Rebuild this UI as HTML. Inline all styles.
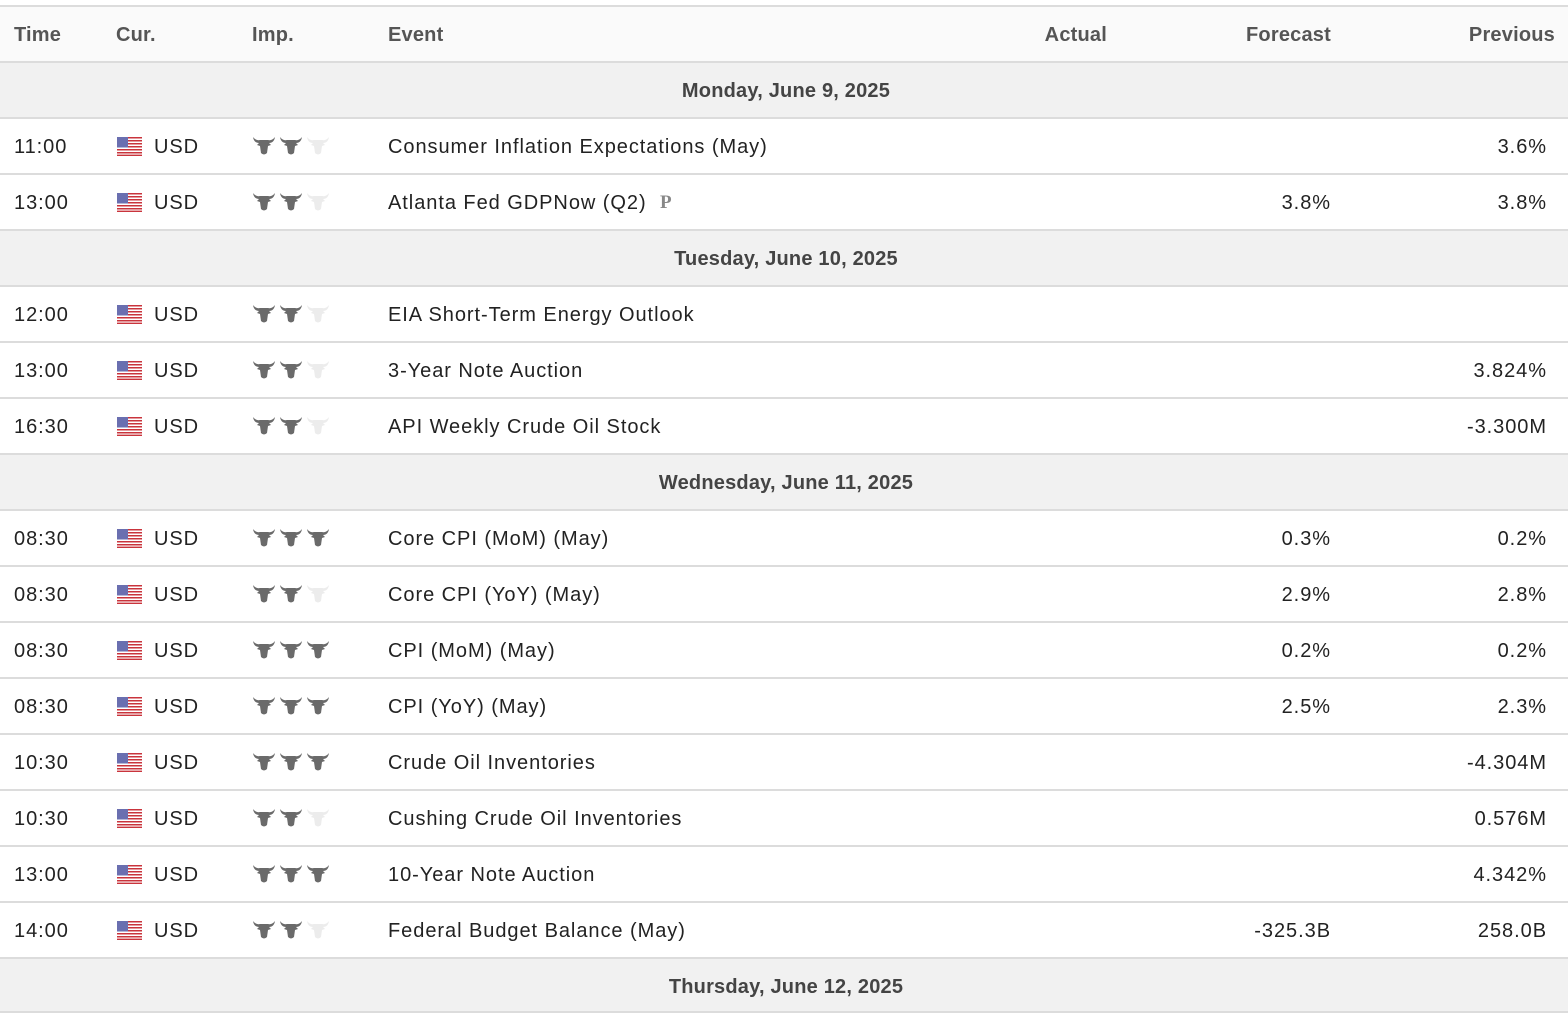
<!DOCTYPE html>
<html><head><meta charset="utf-8">
<style>
*{margin:0;padding:0;box-sizing:border-box}
body{width:1568px;height:1020px;background:#fff;font-family:"Liberation Sans",Arial,sans-serif;overflow:hidden;position:relative}
.tbl{position:absolute;left:0;top:5px;width:1568px}
.r{position:relative;height:56px;border-top:2px solid #dcdcdc;font-size:20px;color:#222;letter-spacing:0.95px}
.h{background:#fafafa;color:#555;font-weight:bold;font-size:20px;letter-spacing:0.2px}
.d{background:#f1f1f1;color:#444;font-weight:bold;font-size:20px;letter-spacing:0.2px}
.r span{position:absolute;top:1px;line-height:54px;white-space:nowrap}
.t{left:14px}.c{left:154px}.e{left:388px}
.a{right:461px}.f{right:237px}.p{right:21px}
.h .p{right:13px}
.dc{left:0;width:1572px;text-align:center}
.fl{position:absolute;left:117px;top:18px;width:25px;height:19px}
.im{position:absolute;left:253px;top:17px;width:78px;height:20px}
.last{border-bottom:2px solid #dcdcdc}
.r .pp{left:660px;font-family:"Liberation Serif",serif;font-weight:bold;color:#888;font-size:19px;letter-spacing:0}
</style></head><body>
<svg width="0" height="0" style="position:absolute">
<defs>
<symbol id="bull" viewBox="0 0 22 20"><path d="M0 1 Q1 7 6 7 L4 9 L7 10 L8 17 Q11 20 14 17 L15 10 L18 9 L16 7 Q21 7 22 1 Q19 5 15 4 L7 4 Q3 5 0 1Z"/></symbol>
<symbol id="flag" viewBox="0 0 25 19">
<rect width="25" height="19" fill="#fff"/>
<g fill="#c9343c"><rect y="0" width="25" height="1.5"/><rect y="3" width="25" height="1.5"/><rect y="6" width="25" height="1.5"/><rect y="9" width="25" height="1.5"/><rect y="12" width="25" height="1.5"/><rect y="15" width="25" height="1.5"/><rect y="17.6" width="25" height="1.4"/></g>
<rect width="11" height="10.5" fill="#6a6fb0"/>
</symbol>
<symbol id="i2" viewBox="0 0 78 20"><use href="#bull" x="0" width="22" height="20" fill="#6a6a6a"/><use href="#bull" x="27" width="22" height="20" fill="#6a6a6a"/><use href="#bull" x="54" width="22" height="20" fill="#ececec"/></symbol>
<symbol id="i3" viewBox="0 0 78 20"><use href="#bull" x="0" width="22" height="20" fill="#6a6a6a"/><use href="#bull" x="27" width="22" height="20" fill="#6a6a6a"/><use href="#bull" x="54" width="22" height="20" fill="#6a6a6a"/></symbol>
</defs></svg>
<div class="tbl">
<div class="r h"><span class="t">Time</span><span style="left:116px">Cur.</span><span style="left:252px">Imp.</span><span class="e">Event</span><span class="a">Actual</span><span class="f">Forecast</span><span class="p">Previous</span></div>
<div class="r d"><span class="dc">Monday, June 9, 2025</span></div>
<div class="r"><span class="t">11:00</span><svg class="fl"><use href="#flag"/></svg><span class="c">USD</span><svg class="im"><use href="#i2"/></svg><span class="e">Consumer Inflation Expectations (May)</span><span class="p">3.6%</span></div>
<div class="r"><span class="t">13:00</span><svg class="fl"><use href="#flag"/></svg><span class="c">USD</span><svg class="im"><use href="#i2"/></svg><span class="e">Atlanta Fed GDPNow (Q2)</span><span class="pp">P</span><span class="f">3.8%</span><span class="p">3.8%</span></div>
<div class="r d"><span class="dc">Tuesday, June 10, 2025</span></div>
<div class="r"><span class="t">12:00</span><svg class="fl"><use href="#flag"/></svg><span class="c">USD</span><svg class="im"><use href="#i2"/></svg><span class="e">EIA Short-Term Energy Outlook</span></div>
<div class="r"><span class="t">13:00</span><svg class="fl"><use href="#flag"/></svg><span class="c">USD</span><svg class="im"><use href="#i2"/></svg><span class="e">3-Year Note Auction</span><span class="p">3.824%</span></div>
<div class="r"><span class="t">16:30</span><svg class="fl"><use href="#flag"/></svg><span class="c">USD</span><svg class="im"><use href="#i2"/></svg><span class="e">API Weekly Crude Oil Stock</span><span class="p">-3.300M</span></div>
<div class="r d"><span class="dc">Wednesday, June 11, 2025</span></div>
<div class="r"><span class="t">08:30</span><svg class="fl"><use href="#flag"/></svg><span class="c">USD</span><svg class="im"><use href="#i3"/></svg><span class="e">Core CPI (MoM) (May)</span><span class="f">0.3%</span><span class="p">0.2%</span></div>
<div class="r"><span class="t">08:30</span><svg class="fl"><use href="#flag"/></svg><span class="c">USD</span><svg class="im"><use href="#i2"/></svg><span class="e">Core CPI (YoY) (May)</span><span class="f">2.9%</span><span class="p">2.8%</span></div>
<div class="r"><span class="t">08:30</span><svg class="fl"><use href="#flag"/></svg><span class="c">USD</span><svg class="im"><use href="#i3"/></svg><span class="e">CPI (MoM) (May)</span><span class="f">0.2%</span><span class="p">0.2%</span></div>
<div class="r"><span class="t">08:30</span><svg class="fl"><use href="#flag"/></svg><span class="c">USD</span><svg class="im"><use href="#i3"/></svg><span class="e">CPI (YoY) (May)</span><span class="f">2.5%</span><span class="p">2.3%</span></div>
<div class="r"><span class="t">10:30</span><svg class="fl"><use href="#flag"/></svg><span class="c">USD</span><svg class="im"><use href="#i3"/></svg><span class="e">Crude Oil Inventories</span><span class="p">-4.304M</span></div>
<div class="r"><span class="t">10:30</span><svg class="fl"><use href="#flag"/></svg><span class="c">USD</span><svg class="im"><use href="#i2"/></svg><span class="e">Cushing Crude Oil Inventories</span><span class="p">0.576M</span></div>
<div class="r"><span class="t">13:00</span><svg class="fl"><use href="#flag"/></svg><span class="c">USD</span><svg class="im"><use href="#i3"/></svg><span class="e">10-Year Note Auction</span><span class="p">4.342%</span></div>
<div class="r"><span class="t">14:00</span><svg class="fl"><use href="#flag"/></svg><span class="c">USD</span><svg class="im"><use href="#i2"/></svg><span class="e">Federal Budget Balance (May)</span><span class="f">-325.3B</span><span class="p">258.0B</span></div>
<div class="r d last"><span class="dc">Thursday, June 12, 2025</span></div>
</div>
</body></html>
